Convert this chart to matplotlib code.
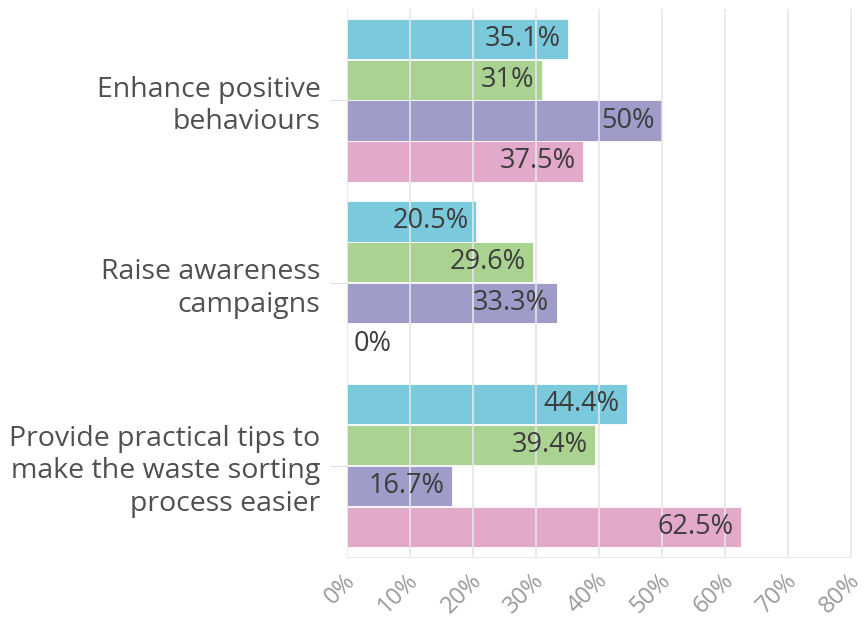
import numpy as np
import matplotlib.pyplot as plt
from matplotlib.transforms import ScaledTranslation

categories = ['Enhance positive\nbehaviours',
              'Raise awareness\ncampaigns',
              'Provide practical tips to\nmake the waste sorting\nprocess easier']
series_a = [35.1, 20.5, 44.4]
series_b = [31.0, 29.6, 39.4]
series_c = [50.0, 33.3, 16.7]
series_d = [37.5, 0.0, 62.5]
labels_a = ['35.1%', '20.5%', '44.4%']
labels_b = ['31%', '29.6%', '39.4%']
labels_c = ['50%', '33.3%', '16.7%']
labels_d = ['37.5%', '0%', '62.5%']
xticks = [0, 10, 20, 30, 40, 50, 60, 70, 80]

colors = ['#74c6db', '#a6d08a', '#9a97c6', '#e2a5c7']
plt.rcParams['font.family'] = ['Open Sans', 'DejaVu Sans']

fig = plt.figure(figsize=(8.65, 6.21), dpi=100)
ax = fig.add_axes([0.401, 0.103, 0.583, 0.883])

y = np.arange(len(categories))
h = 0.224
all_vals = [series_a, series_b, series_c, series_d]
all_labels = [labels_a, labels_b, labels_c, labels_d]
for i, (vals, labs) in enumerate(zip(all_vals, all_labels)):
    pos = y - 1.5 * h + i * h
    ax.barh(pos, vals, height=h * 0.98, color=colors[i], alpha=0.95,
            edgecolor='white', linewidth=0.6, zorder=2)
    for p, v, t in zip(pos, vals, labs):
        if v > 0:
            ax.text(v - 1.2, p, t, ha='right', va='center', fontsize=19.5,
                    color='#3d3d3d', zorder=3)
        else:
            ax.text(v + 1.0, p, t, ha='left', va='center', fontsize=19.5,
                    color='#3d3d3d', zorder=3)

ax.set_xlim(0, 80)
ax.set_ylim(2.5, -0.5)
ax.set_xticks(xticks)
ax.set_xticklabels([])
# rotated tick labels drawn by hand so they sit like the original
off = ScaledTranslation(5 / 100, -20 / 100, fig.dpi_scale_trans)
for t in xticks:
    ax.text(t, 0, f'{t}%', transform=ax.get_xaxis_transform() + off,
            rotation=45, rotation_mode='anchor', ha='right', va='center',
            fontsize=17, color='#9a9a9a', clip_on=False)
ax.set_yticks(y)
ax.set_yticklabels(categories, fontsize=20.5, color='#505050',
                   linespacing=1.22)
ax.tick_params(axis='y', length=12, color='#dddddd', pad=7)
ax.tick_params(axis='x', length=0)
ax.grid(axis='x', color='#e6e6e6', linewidth=1.2, zorder=3)
ax.set_axisbelow(False)
for s in ['top', 'left']:
    ax.spines[s].set_visible(False)
ax.spines['bottom'].set_color('#ececec')
ax.spines['right'].set_color('#ececec')

fig.savefig('out.png', dpi=100, facecolor='white')
